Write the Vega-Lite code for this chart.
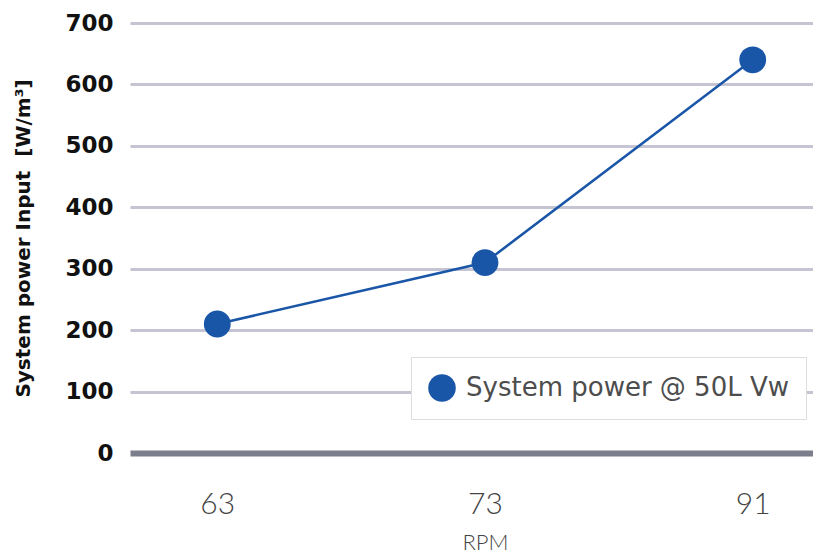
{
  "$schema": "https://vega.github.io/schema/vega-lite/v6.json",
  "autosize": "none",
  "padding": {"left": 130, "top": 23, "right": 0, "bottom": 103},
  "width": 710,
  "height": 430,
  "background": "white",
  "config": {"view": {"stroke": null}},
  "data": {"values": [
    {"rpm": "63", "power": 210, "series": "System power @ 50L Vw"},
    {"rpm": "73", "power": 310, "series": "System power @ 50L Vw"},
    {"rpm": "91", "power": 640, "series": "System power @ 50L Vw"}
  ]},
  "encoding": {
    "x": {"field": "rpm", "type": "ordinal", "sort": ["63", "73", "91"],
      "scale": {"type": "point", "padding": 0.326},
      "axis": {"title": "RPM", "labelAngle": 0, "domain": false, "ticks": false,
        "labelFont": "Lato", "labelFontWeight": 300, "labelFontSize": 30, "labelColor": "#444444", "labelPadding": 36,
        "titleFont": "Lato", "titleFontWeight": 300, "titleFontSize": 22, "titleColor": "#444444", "titlePadding": 13}},
    "y": {"field": "power", "type": "quantitative",
      "scale": {"domain": [0, 700], "nice": false},
      "axis": {"values": [0, 100, 200, 300, 400, 500, 600, 700], "title": "System power Input\u00a0\u00a0[W/m³]",
        "domain": false, "ticks": false, "grid": true,
        "gridColor": {"condition": {"test": "datum.value === 0", "value": "#7c7e8c"}, "value": "#c4c4d2"},
        "gridWidth": {"condition": {"test": "datum.value === 0", "value": 6}, "value": 3},
        "labelFont": "DejaVu Sans", "labelFontWeight": "bold", "labelFontSize": 23, "labelColor": "#111111", "labelPadding": 17,
        "titleFont": "DejaVu Sans", "titleFontWeight": "bold", "titleFontSize": 20, "titleColor": "#111111", "titlePadding": 31}}
  },
  "layer": [
    {"mark": {"type": "line", "color": "#1a56a8", "strokeWidth": 2.5}},
    {"mark": {"type": "point", "filled": true, "opacity": 1, "size": 720},
      "encoding": {
        "color": {"field": "series", "type": "nominal",
          "scale": {"range": ["#1a56a8"]},
          "legend": {"title": null, "orient": "none", "legendX": 281, "legendY": 334,
            "fillColor": "white", "strokeColor": "#dddddd", "padding": 17,
            "symbolType": "circle", "symbolSize": 760, "symbolStrokeWidth": 0,
            "labelFont": "DejaVu Sans", "labelFontSize": 26, "labelColor": "#4d4d4d", "labelOffset": 10, "labelLimit": 500,
            "encode": {"legend": {"update": {"strokeWidth": {"value": 2.5}}}}}}
      }}
  ]
}
